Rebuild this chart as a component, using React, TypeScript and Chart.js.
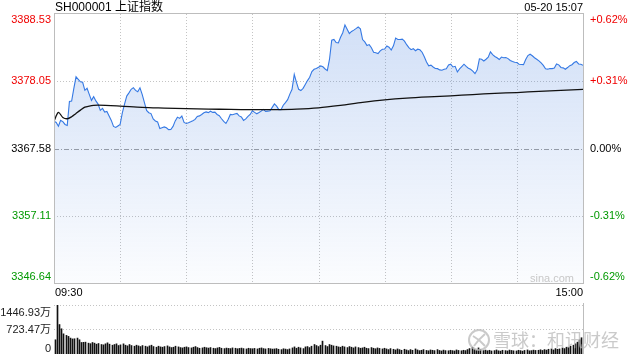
import { useEffect, useRef } from "react";
import { Chart, registerables } from "chart.js";

Chart.register(...registerables);

const TITLE = "SH000001 上证指数";
const TIMESTAMP = "05-20 15:07";
const PRICE_TICKS = [3388.53, 3378.05, 3367.58, 3357.11, 3346.64];
const PCT_TICKS = ["+0.62%", "+0.31%", "0.00%", "-0.31%", "-0.62%"];
const TICK_COLORS = ["#f00000", "#f00000", "#000000", "#009900", "#009900"];
const START_LABEL = "09:30";
const END_LABEL = "15:00";
const SESSION_MINUTES = 240;
const GRID_MINUTES = [30, 60, 90, 120, 150, 180, 210];

// one price per minute, 09:30 .. 15:00
const PRICE = [
  3371.85, 3371.64, 3371.06, 3371.96, 3371.77, 3371.33, 3371.17, 3374.92, 3374.97, 3376.96,
  3378.75, 3378.36, 3377.97, 3377.89, 3376.64, 3376.96, 3376.02, 3375.08, 3375.66, 3375.0,
  3374.5, 3373.52, 3373.83, 3373.25, 3373.36, 3372.66, 3371.96, 3371.02, 3370.86, 3371.1,
  3371.33, 3373.13, 3374.49, 3375.75, 3376.25, 3376.8, 3377.06, 3376.64, 3376.41, 3377.03,
  3376.02, 3374.77, 3373.52, 3373.16, 3373.02, 3372.19, 3371.88, 3371.72, 3370.71, 3370.83,
  3370.94, 3370.81, 3370.52, 3370.55, 3371.02, 3371.88, 3372.47, 3372.27, 3372.63, 3371.64,
  3371.49, 3371.6, 3371.75, 3371.92, 3372.11, 3372.58, 3372.66, 3372.89, 3373.16, 3373.28,
  3373.17, 3373.39, 3373.21, 3373.24, 3372.88, 3372.69, 3372.22, 3371.8, 3371.49, 3372.11,
  3372.89, 3372.85, 3372.97, 3373.05, 3372.66, 3372.5, 3371.96, 3372.19, 3372.58, 3372.89,
  3373.47, 3373.21, 3372.99, 3373.19, 3373.41, 3373.67, 3373.36, 3373.41, 3373.46, 3373.99,
  3374.53, 3374.19, 3373.64, 3373.63, 3374.33, 3374.74, 3375.19, 3376.05, 3376.8, 3379.14,
  3377.89, 3376.8, 3376.61, 3376.96, 3377.55, 3378.16, 3378.67, 3379.56, 3379.92, 3380.05,
  3380.24, 3380.44, 3380.31, 3379.97, 3379.72, 3381.49, 3384.46, 3384.58, 3384.1, 3384.03,
  3384.91, 3385.61, 3386.83, 3386.17, 3385.49, 3385.81, 3386.02, 3386.25, 3386.5, 3386.21,
  3384.55, 3384.19, 3383.63, 3383.77, 3383.28, 3382.58, 3382.5, 3382.38, 3382.8, 3383.03,
  3383.08, 3383.56, 3383.36, 3382.92, 3383.58, 3384.77, 3384.55, 3384.56, 3384.61, 3384.3,
  3383.75, 3383.31, 3382.97, 3383.13, 3382.81, 3383.05, 3382.96, 3382.58, 3381.88, 3381.06,
  3380.47, 3380.56, 3380.27, 3380.05, 3380.02, 3379.83, 3379.77, 3379.92, 3380.0, 3380.58,
  3380.71, 3380.28, 3380.38, 3379.5, 3379.97, 3380.35, 3380.71, 3380.36, 3380.08, 3379.92,
  3379.64, 3379.24, 3379.83, 3381.55, 3381.49, 3381.22, 3381.49, 3381.8, 3382.64, 3382.21,
  3381.92, 3381.72, 3381.44, 3381.83, 3381.72, 3381.75, 3381.58, 3381.3, 3381.13, 3381.02,
  3380.97, 3380.71, 3380.66, 3380.64, 3381.44, 3382.06, 3382.27, 3382.03, 3381.72, 3381.49,
  3381.24, 3380.92, 3380.52, 3380.0, 3379.94, 3380.03, 3380.03, 3380.11, 3380.75, 3380.61,
  3380.21, 3380.14, 3379.92, 3380.19, 3380.49, 3380.63, 3380.97, 3381.14, 3380.75, 3380.71,
  3380.55,
];

const AVG_MINUTES = [0, 2, 4, 6, 8, 10, 12, 14, 16, 18, 20, 30, 40, 50, 60, 70, 80, 90, 100, 110, 120, 130, 140, 150, 160, 170, 180, 190, 200, 210, 220, 230, 240];
const AVG_PRICE = [
  3371.85, 3373.21, 3372.42, 3372.22, 3372.53, 3373.05, 3373.56, 3374.03, 3374.19, 3374.3,
  3374.35, 3374.19, 3373.99, 3373.88, 3373.78, 3373.72, 3373.67, 3373.63, 3373.63, 3373.71,
  3373.91, 3374.3, 3374.77, 3375.16, 3375.44, 3375.63, 3375.78, 3375.99, 3376.17, 3376.3,
  3376.49, 3376.64, 3376.8,
];

// volume per minute, in 万
const VOLUME = [
  420, 1446.93, 870, 745, 595, 550, 520, 470, 445, 450,
  470, 420, 340, 345, 350, 320, 305, 340, 320, 290,
  310, 280, 270, 300, 330, 290, 260, 280, 300, 250,
  270, 300, 260, 240, 280, 250, 230, 260, 240, 220,
  250, 230, 210, 240, 260, 220, 200, 230, 210, 200,
  220, 240, 210, 190, 200, 230, 210, 190, 180, 200,
  210, 190, 180, 200, 220, 190, 170, 180, 200, 185,
  175, 190, 170, 160, 180, 195, 170, 160, 175, 165,
  160, 180, 170, 155, 165, 175, 160, 150, 170, 160,
  155, 165, 150, 170, 180, 160, 150, 165, 155, 145,
  150, 160, 140, 130, 155, 145, 130, 150, 180, 210,
  170, 200, 180, 160, 210, 220, 190, 230, 280, 250,
  220, 260, 380, 250, 220, 280, 260, 240, 230, 210,
  200, 230, 210, 190, 220, 200, 180, 210, 190, 170,
  180, 200, 170, 160, 190, 170, 155, 180, 165, 150,
  170, 150, 130, 160, 140, 120, 150, 130, 110, 140,
  120, 100, 130, 110, 150, 120, 100, 110, 130, 105,
  95, 120, 110, 100, 130, 105, 90, 115, 100, 95,
  110, 100, 90, 120, 105, 95, 110, 100, 130, 160,
  200, 140, 110, 180, 130, 100, 115, 95, 110, 90,
  100, 120, 95, 85, 110, 100, 90, 115, 105, 95,
  90, 110, 100, 85, 105, 120, 95, 100, 115, 105,
  110, 125, 105, 130, 115, 140, 150, 120, 160, 140,
  150, 180, 160, 200, 190, 230, 260, 300, 350, 420,
  480,
];
const VOL_TICKS = [1446.93, 723.47, 0];
const VOL_TICK_LABELS = ["1446.93万", "723.47万", "0"];
const WATERMARK_SINA = "sina.com";
const WATERMARK_XQ = "雪球：和讯财经";

const FONT = '"Liberation Sans", Arial, "Noto Sans CJK SC", sans-serif';

const pricePlugin = {
  id: "priceDecor",
  beforeDatasetsDraw(chart: any) {
    const { ctx, chartArea, scales } = chart;
    const { left, right, top, bottom } = chartArea;
    const x = scales.x;
    const y = scales.y;
    ctx.save();
    ctx.lineWidth = 1;
    ctx.strokeStyle = "#c4c4c4";
    ctx.setLineDash([1, 2]);
    GRID_MINUTES.forEach((m) => {
      const px = Math.round(x.getPixelForValue(m)) + 0.5;
      ctx.beginPath();
      ctx.moveTo(px, top);
      ctx.lineTo(px, bottom);
      ctx.stroke();
    });
    [PRICE_TICKS[1], PRICE_TICKS[3]].forEach((v) => {
      const py = Math.round(y.getPixelForValue(v)) + 0.5;
      ctx.beginPath();
      ctx.moveTo(left, py);
      ctx.lineTo(right, py);
      ctx.stroke();
    });
    ctx.strokeStyle = "#a0a0a0";
    ctx.setLineDash([5, 2, 1, 2]);
    const pz = Math.round(y.getPixelForValue(PRICE_TICKS[2])) + 0.5;
    ctx.beginPath();
    ctx.moveTo(left, pz);
    ctx.lineTo(right, pz);
    ctx.stroke();
    ctx.restore();
  },
  afterDraw(chart: any) {
    const { ctx, chartArea, scales } = chart;
    const { left, right, top, bottom } = chartArea;
    const y = scales.y;
    ctx.save();
    ctx.setLineDash([]);
    ctx.strokeStyle = "#bdbdbd";
    ctx.lineWidth = 1;
    ctx.strokeRect(Math.round(left) + 0.5, Math.round(top) - 0.5, Math.round(right - left), Math.round(bottom - top) + 1);

    ctx.font = `11px ${FONT}`;
    ctx.textBaseline = "middle";
    PRICE_TICKS.forEach((v, i) => {
      const py = Math.max(top + 6, Math.min(bottom - 6, y.getPixelForValue(v)));
      ctx.fillStyle = TICK_COLORS[i];
      ctx.textAlign = "right";
      ctx.fillText(v.toFixed(2), left - 3, py);
      ctx.textAlign = "left";
      ctx.fillText(PCT_TICKS[i], right + 7, py);
    });

    ctx.fillStyle = "#000";
    ctx.textAlign = "left";
    ctx.fillText(START_LABEL, left + 1, bottom + 10);
    ctx.textAlign = "right";
    ctx.fillText(END_LABEL, right, bottom + 10);

    ctx.fillStyle = "#c8c8c8";
    ctx.fillText(WATERMARK_SINA, right - 9, bottom - 4);

    ctx.fillStyle = "#000";
    ctx.font = `12px ${FONT}`;
    ctx.textAlign = "left";
    ctx.fillText(TITLE, left + 1, 7.5);
    ctx.font = `11px ${FONT}`;
    ctx.textAlign = "right";
    ctx.fillText(TIMESTAMP, right, 7.5);
    ctx.restore();
  },
};

const volPlugin = {
  id: "volDecor",
  beforeDatasetsDraw(chart: any) {
    const { ctx, chartArea, scales } = chart;
    const { left, right } = chartArea;
    const y = scales.y;
    // snap the 1px bars to whole pixels so they stay crisp
    chart.getDatasetMeta(0).data.forEach((el: any) => {
      el.x = Math.floor(el.x) + 0.5;
    });
    ctx.save();
    ctx.lineWidth = 1;
    ctx.strokeStyle = "#c4c4c4";
    ctx.setLineDash([1, 2]);
    [VOL_TICKS[0], VOL_TICKS[1]].forEach((v) => {
      const py = Math.round(y.getPixelForValue(v)) + 0.5;
      ctx.beginPath();
      ctx.moveTo(left, py);
      ctx.lineTo(right, py);
      ctx.stroke();
    });
    ctx.restore();
  },
  afterDraw(chart: any) {
    const { ctx, chartArea, scales } = chart;
    const { left, right, top, bottom } = chartArea;
    const y = scales.y;
    ctx.save();
    ctx.strokeStyle = "#bdbdbd";
    ctx.lineWidth = 1;
    ctx.beginPath();
    ctx.moveTo(Math.round(right) + 0.5, top - 2);
    ctx.lineTo(Math.round(right) + 0.5, bottom);
    ctx.stroke();

    ctx.font = `11px ${FONT}`;
    ctx.textBaseline = "middle";
    ctx.textAlign = "right";
    ctx.fillStyle = "#222";
    VOL_TICKS.forEach((v, i) => {
      const py = Math.max(top + 7.5, Math.min(bottom - 5, y.getPixelForValue(v)));
      ctx.fillText(VOL_TICK_LABELS[i], left - 3, py);
    });

    // watermark
    ctx.globalAlpha = 0.75;
    ctx.strokeStyle = "#b8b8b8";
    ctx.fillStyle = "#b8b8b8";
    ctx.lineWidth = 2;
    ctx.beginPath();
    ctx.arc(479, 40, 10, 0, Math.PI * 2);
    ctx.stroke();
    ctx.beginPath();
    ctx.moveTo(473, 36);
    ctx.quadraticCurveTo(480, 40, 485, 46);
    ctx.moveTo(485, 34);
    ctx.quadraticCurveTo(478, 40, 474, 46);
    ctx.stroke();
    ctx.font = `18px "Noto Sans CJK SC", sans-serif`;
    ctx.textAlign = "left";
    ctx.fillText(WATERMARK_XQ, 493, 40);
    ctx.restore();
  },
};

export default function App() {
  const priceRef = useRef<HTMLCanvasElement>(null);
  const volRef = useRef<HTMLCanvasElement>(null);

  useEffect(() => {
    const priceData = PRICE.map((v, m) => ({ x: m, y: v }));
    const avgData = AVG_PRICE.map((v, k) => ({ x: AVG_MINUTES[k], y: v }));

    const priceChart = new Chart(priceRef.current as HTMLCanvasElement, {
      type: "line",
      data: {
        datasets: [
          {
            data: avgData,
            borderColor: "#111111",
            borderWidth: 1.3,
            pointRadius: 0,
            fill: false,
            tension: 0.3,
            order: 0,
          },
          {
            data: priceData,
            borderColor: "#3579e4",
            borderWidth: 1.1,
            pointRadius: 0,
            tension: 0,
            fill: "start",
            order: 1,
            backgroundColor: (c: any) => {
              const ca = c.chart.chartArea;
              if (!ca) return "rgba(60,120,220,0.15)";
              const g = c.chart.ctx.createLinearGradient(0, ca.top, 0, ca.bottom);
              g.addColorStop(0, "rgba(60,120,220,0.24)");
              g.addColorStop(1, "rgba(60,120,220,0.02)");
              return g;
            },
          },
        ],
      },
      options: {
        responsive: false,
        animation: false,
        devicePixelRatio: 1,
        events: [],
        layout: { padding: { left: 54, right: 57, top: 14, bottom: 17 } },
        plugins: { legend: { display: false }, tooltip: { enabled: false } },
        scales: {
          x: { type: "linear", min: 0, max: SESSION_MINUTES, display: false },
          y: { min: PRICE_TICKS[4], max: PRICE_TICKS[0], display: false },
        },
      },
      plugins: [pricePlugin],
    } as any);

    const volChart = new Chart(volRef.current as HTMLCanvasElement, {
      type: "bar",
      data: {
        labels: VOLUME.map((_, i) => String(i)),
        datasets: [
          {
            data: VOLUME,
            backgroundColor: "#111111",
            barThickness: 1,
          },
        ],
      },
      options: {
        responsive: false,
        animation: false,
        devicePixelRatio: 1,
        events: [],
        layout: { padding: { left: 54, right: 57, top: 5, bottom: 6 } },
        plugins: { legend: { display: false }, tooltip: { enabled: false } },
        scales: {
          x: { type: "category", display: false },
          y: { min: 0, max: VOL_TICKS[0], display: false },
        },
      },
      plugins: [volPlugin],
    } as any);

    return () => {
      priceChart.destroy();
      volChart.destroy();
    };
  }, []);

  return (
    <div style={{ position: "fixed", left: 0, top: 0, width: 640, height: 360, background: "#fff", overflow: "hidden" }}>
      <canvas ref={priceRef} width={640} height={300} style={{ position: "absolute", left: 0, top: 0, width: 640, height: 300 }} />
      <canvas ref={volRef} width={640} height={60} style={{ position: "absolute", left: 0, top: 300, width: 640, height: 60 }} />
    </div>
  );
}
